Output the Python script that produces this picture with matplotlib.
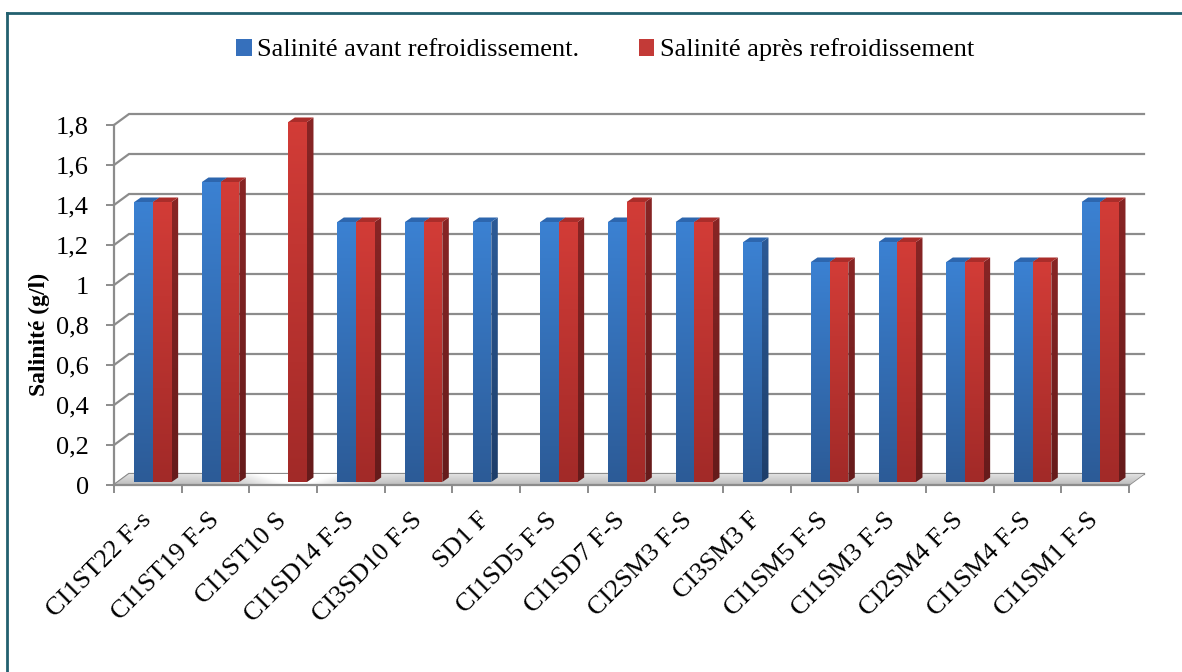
import numpy as np
import matplotlib
matplotlib.use('Agg')
import matplotlib.pyplot as plt
from matplotlib.patches import Polygon, Rectangle
from matplotlib.colors import LinearSegmentedColormap
from matplotlib.lines import Line2D

plt.rcParams['font.family'] = ['Liberation Serif', 'DejaVu Serif']

# stations and salinity (g/l) before / after cooling
stations = ['CI1ST22 F-s', 'CI1ST19 F-S', 'CI1ST10 S', 'CI1SD14 F-S', 'CI3SD10 F-S',
            'SD1 F', 'CI1SD5 F-S', 'CI1SD7 F-S', 'CI2SM3 F-S', 'CI3SM3 F',
            'CI1SM5 F-S', 'CI1SM3 F-S', 'CI2SM4 F-S', 'CI1SM4 F-S', 'CI1SM1 F-S']
avant = [1.4, 1.5, np.nan, 1.3, 1.3, 1.3, 1.3, 1.3, 1.3, 1.2, 1.1, 1.2, 1.1, 1.1, 1.4]
apres = [1.4, 1.5, 1.8, 1.3, 1.3, np.nan, 1.3, 1.4, 1.3, np.nan, 1.1, 1.2, 1.1, 1.1, 1.4]
yticks = [0, 0.2, 0.4, 0.6, 0.8, 1.0, 1.2, 1.4, 1.6, 1.8]
legend_labels = ['Salinité avant refroidissement.', 'Salinité après refroidissement']

W, H = 1182, 672
n = len(stations)
px_x = 1015 / n      # pixels per category
px_y = 200.0         # pixels per g/l

# fake 3d: wall depth, bar plane offset and bar depth (data units)
DX, DY = 15 / px_x, 11 / px_y
OY = 3 / px_y
BDX, BDY = 6.5 / px_x, 4.5 / px_y
GRID = '#8c8c8c'

fig = plt.figure(figsize=(W / 100, H / 100), dpi=100)
ax = fig.add_axes([0, 0, 1, 1])


def shaded(verts, top, bottom, z):
    poly = Polygon(verts, closed=True, fc='none', ec='none', zorder=z)
    ax.add_patch(poly)
    xs, ys = zip(*verts)
    cmap = LinearSegmentedColormap.from_list('face', [bottom, top])
    im = ax.imshow(np.linspace(0, 1, 100).reshape(-1, 1), cmap=cmap, origin='lower',
                   extent=(min(xs), max(xs), min(ys), max(ys)), aspect='auto',
                   interpolation='bilinear', zorder=z)
    im.set_clip_path(poly)
    im.set_clip_box(None)


def bar3d(x0, x1, v, front, side, top, z=3):
    yb, yt = OY, v + OY
    shaded([(x0, yb), (x1, yb), (x1, yt), (x0, yt)], front[0], front[1], z)
    shaded([(x1, yb), (x1 + BDX, yb + BDY), (x1 + BDX, yt + BDY), (x1, yt)], side[0], side[1], z)
    ax.add_patch(Polygon([(x0, yt), (x1, yt), (x1 + BDX, yt + BDY), (x0 + BDX, yt + BDY)],
                         fc=top, ec='none', zorder=z))


# back wall grid and left wall edges
for v in yticks:
    ax.plot([-0.5, -0.5 + DX, n - 0.5 + DX], [v, v + DY, v + DY], color=GRID, lw=1.6,
            zorder=1, solid_joinstyle='miter', clip_on=False)

# floor with a soft highlight
fx = np.linspace(-0.5, n - 0.5 + DX, 400)
fy = np.linspace(0, 1, 20)
shade = 0.74 + 0.14 * fy[:, None] + 0.24 * np.exp(-((fx[None, :] - 2.2) / 0.7) ** 2)
floor_img = np.clip(np.repeat(shade[:, :, None], 3, axis=2), 0, 1)
floor = Polygon([(-0.5, 0), (n - 0.5, 0), (n - 0.5 + DX, DY), (-0.5 + DX, DY)],
                closed=True, fc='none', ec=GRID, lw=1.2, zorder=2)
ax.add_patch(floor)
fim = ax.imshow(floor_img, origin='lower', extent=(-0.5, n - 0.5 + DX, 0, DY),
                aspect='auto', interpolation='bilinear', zorder=2)
fim.set_clip_path(floor)
fim.set_clip_box(None)

blue = (('#3b81d2', '#2c5b97'), ('#2c5a96', '#1e3e6a'), '#2d66ae')
red = (('#d23c37', '#a22a28'), ('#882525', '#661b1b'), '#aa2d2a')
bw = 0.276
for i in range(n):
    xb = i - 0.2
    if not np.isnan(avant[i]):
        bar3d(xb, xb + bw, avant[i], *blue)
    if not np.isnan(apres[i]):
        bar3d(xb + bw, xb + 2 * bw, apres[i], *red)

# axes lines placed on the front edges
for s in ['top', 'right']:
    ax.spines[s].set_visible(False)
ax.spines['left'].set_position(('data', -0.5))
ax.spines['left'].set_bounds(0, 1.8)
ax.spines['bottom'].set_position(('data', 0))
ax.spines['bottom'].set_bounds(-0.5, n - 0.5)
for s in ['left', 'bottom']:
    ax.spines[s].set_color(GRID)
    ax.spines[s].set_linewidth(1.6)
    ax.spines[s].set_zorder(2.5)

ax.set_yticks(yticks, labels=[f'{v:g}'.replace('.', ',') for v in yticks])
ax.tick_params(axis='y', length=6, width=1.4, color=GRID, labelsize=19, pad=12)

ax.set_xticks(np.arange(n + 1) - 0.5, labels=[''] * (n + 1))
ax.set_xticks(np.arange(n), labels=stations, minor=True)
ax.tick_params(axis='x', which='major', length=6, width=1.4, color=GRID)
ax.tick_params(axis='x', which='minor', length=0, labelsize=19, pad=23)
for lbl in ax.get_xticklabels(minor=True):
    lbl.set_rotation(45)
    lbl.set_ha('right')
    lbl.set_va('center')
    lbl.set_rotation_mode('anchor')

ax.set_ylabel('Salinité (g/l)', fontsize=17, fontweight='bold')
ax.yaxis.set_label_coords(50 / W, 1 - 334 / H)

ax.set_xlim(-0.5 - 114 / px_x, -0.5 + (W - 114) / px_x)
ax.set_ylim(-(H - 485) / px_y, 485 / px_y)

handles = [Rectangle((0, 0), 1, 1, fc='#3670bc'), Rectangle((0, 0), 1, 1, fc='#c33a37')]
fig.legend(handles, legend_labels, loc='center', bbox_to_anchor=(605 / W, 1 - 50 / H),
           ncol=2, frameon=False, fontsize=19, handlelength=0.6, handleheight=0.6,
           handletextpad=0.2, columnspacing=2.25)

# outer frame (top and left edges)
fig.add_artist(Line2D([7 / W, 1], [1 - 13 / H] * 2, transform=fig.transFigure,
                      color='#22606f', lw=2))
fig.add_artist(Line2D([7 / W] * 2, [0, 1 - 13 / H], transform=fig.transFigure,
                      color='#22606f', lw=2))

fig.savefig('out.png', dpi=100)
